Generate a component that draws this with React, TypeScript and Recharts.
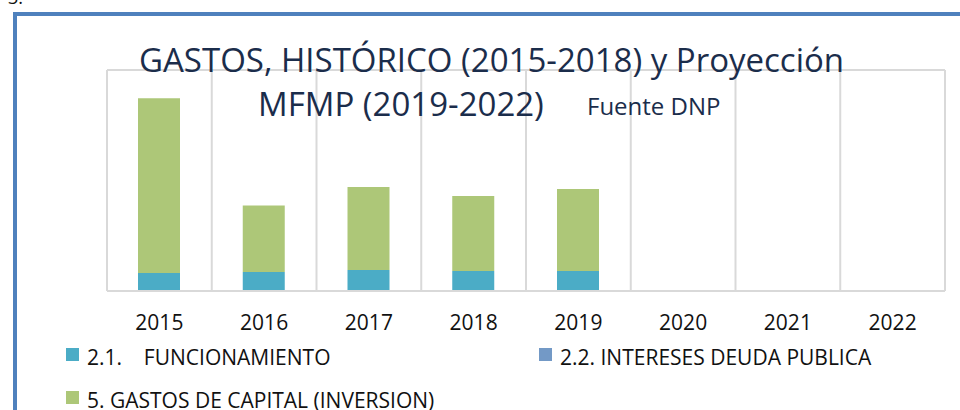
import { BarChart, Bar, XAxis, YAxis, CartesianGrid } from "recharts";

const years = ["2015", "2016", "2017", "2018", "2019", "2020", "2021", "2022"];
// miles de millones (estimado de la gráfica)
const funcionamiento = [180, 190, 210, 200, 200, null, null, null];
const intereses = [0, 0, 0, 0, 0, null, null, null];
const capital = [1740, 660, 825, 745, 815, null, null, null];

const series = [
  { key: "func", name: "2.1.    FUNCIONAMIENTO", color: "#4bacc6" },
  { key: "int", name: "2.2. INTERESES DEUDA PUBLICA", color: "#7399c6" },
  { key: "cap", name: "5. GASTOS DE CAPITAL (INVERSION)", color: "#adc778" },
];

const data = years.map((y, i) => ({
  year: y,
  func: funcionamiento[i],
  int: intereses[i],
  cap: capital[i],
}));

const FONT = "'Open Sans', sans-serif";
const legendSpots = [
  { x: 66, y: 348 },
  { x: 539, y: 348 },
  { x: 66, y: 391 },
];

export default function App() {
  return (
    <div style={{ position: "fixed", left: 0, top: 0, width: 960, height: 410, overflow: "hidden", background: "#fff" }}>
      <div
        style={{
          position: "absolute",
          left: 13,
          top: 12,
          width: 1000,
          height: 500,
          border: "4px solid #4f81bd",
        }}
      />
      <div style={{ position: "absolute", left: 8, top: -15, fontFamily: FONT, fontSize: 18, color: "#111" }}>3.</div>
      <div style={{ position: "absolute", left: 0, top: 0 }}>
        <BarChart width={960} height={410} data={data} margin={{ top: 70, right: 15, bottom: 89, left: 107 }}>
          <CartesianGrid
            stroke="#d9d9d9"
            strokeWidth={2}
            horizontalCoordinatesGenerator={({ offset }: any) => [offset.top]}
            verticalCoordinatesGenerator={({ offset }: any) =>
              years.map((_, i) => offset.left + (i * offset.width) / years.length).concat(offset.left + offset.width)
            }
          />
          <XAxis
            dataKey="year"
            interval={0}
            tickLine={false}
            axisLine={{ stroke: "#d9d9d9", strokeWidth: 2 }}
            tickMargin={18}
            tick={{ fontSize: 21, fontFamily: FONT, fill: "#111" }}
          />
          <YAxis hide domain={[0, 2200]} />
          {series.map((s) => (
            <Bar key={s.key} dataKey={s.key} name={s.name} stackId="a" fill={s.color} barSize={42} isAnimationActive={false} />
          ))}
        </BarChart>
      </div>
      <svg width={960} height={410} style={{ position: "absolute", left: 0, top: 0, pointerEvents: "none" }}>
        <text x={139} y={72} fontSize={33} fontFamily={FONT} fill="#1b2d4b">
          GASTOS, HISTÓRICO (2015-2018) y Proyección
        </text>
        <text x={258} y={116} fontSize={33} fontFamily={FONT} fill="#1b2d4b">
          MFMP (2019-2022)
        </text>
        <text x={587} y={115} fontSize={24} fontFamily={FONT} fill="#1b2d4b">
          Fuente DNP
        </text>
        {series.map((s, i) => (
          <g key={s.key}>
            <rect x={legendSpots[i].x} y={legendSpots[i].y} width={13} height={13} fill={s.color} />
            <text
              x={legendSpots[i].x + 21}
              y={legendSpots[i].y + 17}
              fontSize={21}
              fontFamily={FONT}
              fill="#111"
              style={{ whiteSpace: "pre" }}
            >
              {s.name}
            </text>
          </g>
        ))}
      </svg>
    </div>
  );
}
